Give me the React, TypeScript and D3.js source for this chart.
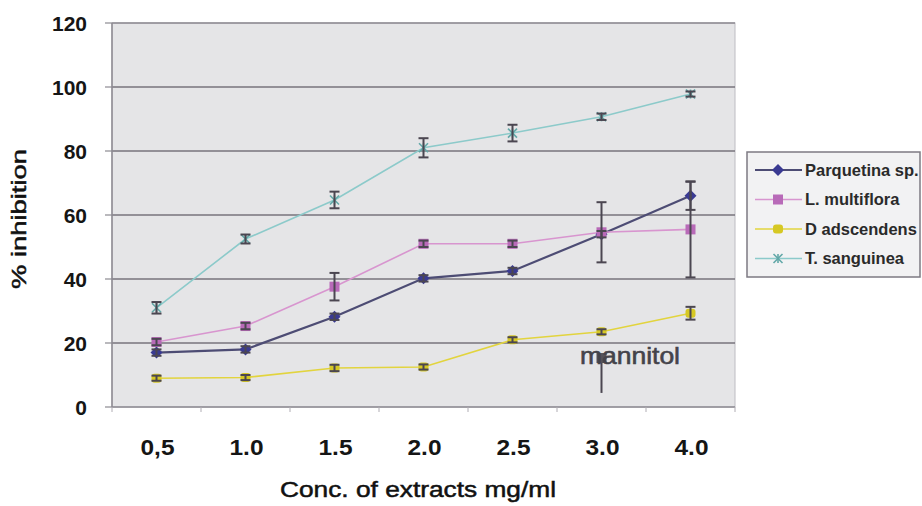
import React from "react";
import * as d3 from "d3";

const categories = ["0,5", "1.0", "1.5", "2.0", "2.5", "3.0", "4.0"];
const yTicks = [0, 20, 40, 60, 80, 100, 120];

const seriesNames = ["Parquetina sp.", "L. multiflora", "D adscendens", "T. sanguinea"];
const parquetina = [17, 18, 28.2, 40.2, 42.5, 54, 66];
const parquetinaErr = [1, 1, 1, 1, 1, 1, 4.4];
const multiflora = [20.3, 25.3, 37.6, 51, 51, 54.6, 55.5];
const multifloraErr = [1, 1, 4.3, 1, 1, 9.4, 15];
const adscendens = [9, 9.2, 12.2, 12.5, 21, 23.5, 29.3];
const adscendensErr = [0.8, 0.8, 1, 0.8, 0.8, 0.8, 2];
const sanguinea = [31, 52.5, 64.7, 81, 85.6, 90.7, 97.8];
const sanguineaErr = [1.8, 1.4, 2.6, 3, 2.6, 1, 0.8];

const mannitolCategory = "3.0";
const mannitolValue = 15.3;
const mannitolLow = 4.4;

const W = 922, H = 506;
const plotL = 112, plotR = 735, plotT = 23, plotB = 407;

const x = d3.scaleBand<string>().domain(categories).range([plotL, plotR]);
const y = d3.scaleLinear().domain([0, 120]).range([plotB, plotT]);

type S = { name: string; values: number[]; errs: number[]; line: string; fill: string; marker: string; lw: number };
const series: S[] = [
  { name: seriesNames[0], values: parquetina, errs: parquetinaErr, line: "#4d4c74", fill: "#3a3a92", marker: "diamond", lw: 2.2 },
  { name: seriesNames[1], values: multiflora, errs: multifloraErr, line: "#d895cf", fill: "#b86ab8", marker: "square", lw: 1.6 },
  { name: seriesNames[2], values: adscendens, errs: adscendensErr, line: "#e2d43e", fill: "#d6c824", marker: "circle", lw: 1.6 },
  { name: seriesNames[3], values: sanguinea, errs: sanguineaErr, line: "#8ccaca", fill: "#62a8a8", marker: "cross", lw: 1.6 },
];

function Marker({ kind, cx, cy, color }: { kind: string; cx: number; cy: number; color: string }) {
  if (kind === "diamond") {
    const r = 6;
    return <path d={`M${cx},${cy - r}L${cx + r},${cy}L${cx},${cy + r}L${cx - r},${cy}Z`} fill={color} />;
  }
  if (kind === "square") return <rect x={cx - 5} y={cy - 5} width={10} height={10} fill={color} />;
  if (kind === "circle") return <rect x={cx - 5} y={cy - 4.5} width={10} height={9} rx={3} fill={color} />;
  const r = 4.5;
  return (
    <g stroke={color} strokeWidth={1.6}>
      <line x1={cx - r} y1={cy - r} x2={cx + r} y2={cy + r} />
      <line x1={cx - r} y1={cy + r} x2={cx + r} y2={cy - r} />
      <line x1={cx} y1={cy - r} x2={cx} y2={cy + r} />
    </g>
  );
}

export default function App() {
  const cx = (c: string) => (x(c) as number) + x.bandwidth() / 2;
  const lineGen = d3
    .line<number>()
    .x((_, i) => cx(categories[i]))
    .y((v) => y(v));
  const errColor = "#4b4651";
  const font = "Arial, 'Liberation Sans', sans-serif";
  const legendRows = [170, 199.5, 229, 258.5];
  const mx = cx(mannitolCategory);

  return (
    <svg width={W} height={H} style={{ position: "absolute", left: 0, top: 0, background: "#fff" }} fontFamily={font}>
      <rect x={plotL} y={plotT} width={plotR - plotL} height={plotB - plotT} fill="#e5e5e7" stroke="#bdbcc2" strokeWidth={1} />
      {yTicks.filter((t) => t > 0 && t < 120).map((t) => (
        <line key={t} x1={plotL} x2={plotR} y1={y(t)} y2={y(t)} stroke="#77737c" strokeWidth={1.5} />
      ))}
      <line x1={plotL} x2={plotR} y1={plotT} y2={plotT} stroke="#8d8a92" strokeWidth={1.5} />
      <line x1={plotL} x2={plotL} y1={plotT} y2={plotB} stroke="#8d8a92" strokeWidth={1.5} />
      <line x1={plotL} x2={plotR} y1={plotB} y2={plotB} stroke="#8d8a92" strokeWidth={1.5} />
      {yTicks.map((t) => (
        <g key={t}>
          <line x1={plotL - 7} x2={plotL} y1={y(t)} y2={y(t)} stroke="#8d8a92" strokeWidth={1.2} />
          <text x={87} y={y(t)} dy="0.36em" textAnchor="end" fontSize={21} fontWeight="bold" fill="#151515">
            {t}
          </text>
        </g>
      ))}
      {categories.map((c, i) => (
        <g key={c}>
          <line x1={x(c) as number} x2={x(c) as number} y1={plotB} y2={plotB + 5} stroke="#b0adb4" strokeWidth={1} />
          {i === categories.length - 1 && (
            <line x1={plotR} x2={plotR} y1={plotB} y2={plotB + 5} stroke="#b0adb4" strokeWidth={1} />
          )}
          <text x={cx(c) + 1} y={455} textAnchor="middle" fontSize={22} fontWeight="bold" fill="#151515" textLength={34} lengthAdjust="spacingAndGlyphs">
            {c}
          </text>
        </g>
      ))}
      <text x={418} y={497} textAnchor="middle" fontSize={22} fill="#111" stroke="#111" strokeWidth={0.5} textLength={276} lengthAdjust="spacingAndGlyphs">
        Conc. of extracts mg/ml
      </text>
      <text transform={`translate(26,${219}) rotate(-90)`} textAnchor="middle" fontSize={21} fill="#111" stroke="#111" strokeWidth={0.5} textLength={140} lengthAdjust="spacingAndGlyphs">
        % inhibition
      </text>

      {series.map((s) => (
        <path key={s.name + "l"} d={lineGen(s.values) || ""} fill="none" stroke={s.line} strokeWidth={s.lw} />
      ))}
      {series.map((s) => (
        <g key={s.name + "m"}>
          {s.values.map((v, i) => (
            <Marker key={i} kind={s.marker} cx={cx(categories[i])} cy={y(v)} color={s.fill} />
          ))}
        </g>
      ))}
      {series.map((s) => (
        <g key={s.name + "e"} stroke={errColor} strokeWidth={2}>
          {s.values.map((v, i) => {
            const c = cx(categories[i]);
            const e = s.errs[i];
            return (
              <g key={i}>
                <line x1={c} x2={c} y1={y(v - e)} y2={y(v + e)} />
                <line x1={c - 5} x2={c + 5} y1={y(v - e)} y2={y(v - e)} />
                <line x1={c - 5} x2={c + 5} y1={y(v + e)} y2={y(v + e)} />
              </g>
            );
          })}
        </g>
      ))}

      <line x1={mx} x2={mx} y1={y(mannitolLow)} y2={y(mannitolValue)} stroke="#4b4651" strokeWidth={2} />
      <rect x={mx - 5} y={y(mannitolValue) - 5} width={10} height={10} fill="#55525a" />
      <text x={580} y={364} fontSize={24} fill="#44434a" stroke="#44434a" strokeWidth={0.6} textLength={100} lengthAdjust="spacingAndGlyphs">
        mannitol
      </text>

      <rect x={747} y={152} width={173} height={125} fill="#f2f2f3" stroke="#7d7a82" strokeWidth={1.5} />
      {series.map((s, i) => (
        <g key={s.name + "g"}>
          <line x1={755} x2={802} y1={legendRows[i]} y2={legendRows[i]} stroke={s.line} strokeWidth={s.lw} />
          <Marker kind={s.marker} cx={778} cy={legendRows[i]} color={s.fill} />
          <text x={805} y={legendRows[i]} dy="0.36em" fontSize={16.5} fontWeight="bold" fill="#2a2a2a">
            {s.name}
          </text>
        </g>
      ))}
    </svg>
  );
}
